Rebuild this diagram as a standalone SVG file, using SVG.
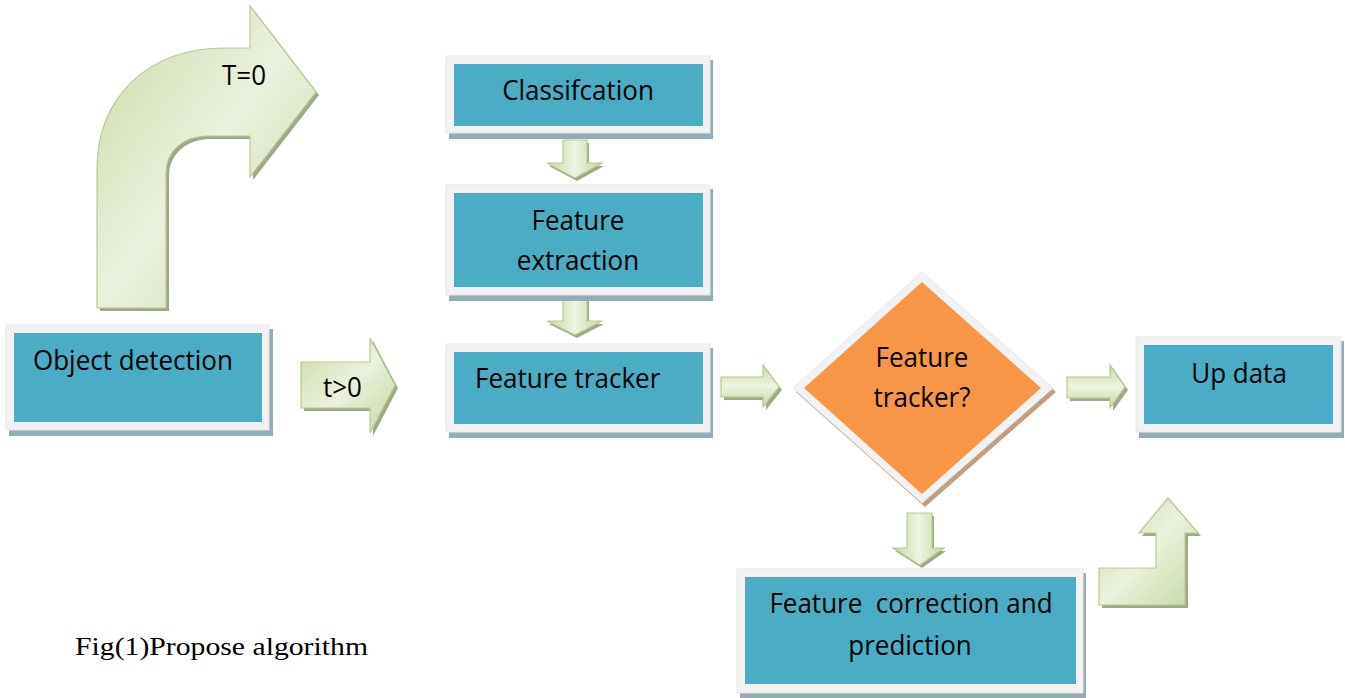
<svg xmlns="http://www.w3.org/2000/svg" width="1345" height="698" viewBox="0 0 1345 698">
<defs>
<linearGradient id="g" x1="0" y1="0" x2="1" y2="1">
<stop offset="0" stop-color="#c9dba6"/>
<stop offset="0.5" stop-color="#ebf1df"/>
<stop offset="1" stop-color="#c5d89f"/>
</linearGradient>
<linearGradient id="gv" x1="0" y1="0" x2="1" y2="0">
<stop offset="0" stop-color="#c5d89f"/>
<stop offset="0.5" stop-color="#eef3e3"/>
<stop offset="1" stop-color="#c5d89f"/>
</linearGradient>
<linearGradient id="gh" x1="0" y1="0" x2="0" y2="1">
<stop offset="0" stop-color="#c5d89f"/>
<stop offset="0.5" stop-color="#eef3e3"/>
<stop offset="1" stop-color="#c5d89f"/>
</linearGradient>
</defs>
<style>
.frame{fill:#f2f2f2;stroke:#e6e6e6;stroke-width:1}
.sh{fill:#93adb7}
.teal{fill:#4bacc6}
.arr{stroke:#b6cc8d;stroke-width:1.2;stroke-linejoin:miter}
.ash{fill:#9fa88e}
.t{font-family:"Open Sans","Liberation Sans",sans-serif;font-size:26px;fill:#000}
.c{text-anchor:middle}
.cap{font-family:"Liberation Serif","Times New Roman",serif;font-size:26px;fill:#000}
</style>
<rect width="1345" height="698" fill="#fff"/>

<g id="connectors">
<g id="arrow-t0">
<path class="ash" transform="translate(3,3)" d="M97 308 L97 170 C97 95 150 48 225 48 L250 48 L250 6 L316 92 L250 177 L250 136 L207 136 C185 136 166 150 166 173 L166 308 Z"/>
<path class="arr" fill="url(#g)" d="M97 308 L97 170 C97 95 150 48 225 48 L250 48 L250 6 L316 92 L250 177 L250 136 L207 136 C185 136 166 150 166 173 L166 308 Z"/>
<text class="t" transform="translate(222 85) scale(1 1.08)">T=0</text>
</g>
<g id="arrow-t1">
<path class="ash" transform="translate(3,3)" d="M301 362 L370 362 L370 338 L395 385 L370 433 L370 408 L301 408 Z"/>
<path class="arr" fill="url(#g)" d="M301 362 L370 362 L370 338 L395 385 L370 433 L370 408 L301 408 Z"/>
<text class="t" transform="translate(323 397) scale(1 1.08)">t&gt;0</text>
</g>
<path class="ash" transform="translate(2,3)" d="M563 140 L587 140 L587 163 L602 163 L575 178 L547 163 L563 163 Z"/>
<path class="arr" fill="url(#gv)" d="M563 140 L587 140 L587 163 L602 163 L575 178 L547 163 L563 163 Z"/>
<path class="ash" transform="translate(2,3)" d="M563 298 L587 298 L587 321 L602 321 L575 335 L547 321 L563 321 Z"/>
<path class="arr" fill="url(#gv)" d="M563 298 L587 298 L587 321 L602 321 L575 335 L547 321 L563 321 Z"/>
<path class="ash" transform="translate(2,3)" d="M907 513 L932 513 L932 548 L944 548 L920 565 L893 548 L907 548 Z"/>
<path class="arr" fill="url(#gv)" d="M907 513 L932 513 L932 548 L944 548 L920 565 L893 548 L907 548 Z"/>
<path class="ash" transform="translate(3,3)" d="M721 377 L763 377 L763 365 L779 387 L763 407 L763 397 L721 397 Z"/>
<path class="arr" fill="url(#gh)" d="M721 377 L763 377 L763 365 L779 387 L763 407 L763 397 L721 397 Z"/>
<path class="ash" transform="translate(3,3)" d="M1067 377 L1110 377 L1110 365 L1125 387 L1110 408 L1110 398 L1067 398 Z"/>
<path class="arr" fill="url(#gh)" d="M1067 377 L1110 377 L1110 365 L1125 387 L1110 408 L1110 398 L1067 398 Z"/>
<path class="ash" transform="translate(3,3)" d="M1099 568 L1156 568 L1156 533 L1139 533 L1168 498 L1198 533 L1185 533 L1185 605 L1099 605 Z"/>
<path class="arr" fill="url(#g)" d="M1099 568 L1156 568 L1156 533 L1139 533 L1168 498 L1198 533 L1185 533 L1185 605 L1099 605 Z"/>
</g>

<g id="object-detection">
<rect class="sh" x="9" y="329" width="264" height="107"/>
<rect class="frame" x="6" y="325" width="263" height="105"/>
<rect class="teal" x="14" y="333" width="248" height="89"/>
<text class="t" transform="translate(33 370) scale(1 1.08)">Object detection</text>
</g>

<g id="classification">
<rect class="sh" x="449" y="60" width="264" height="79"/>
<rect class="frame" x="446" y="56" width="264" height="77"/>
<rect class="teal" x="454" y="64" width="249" height="62"/>
<text class="t c" transform="translate(578 100) scale(1 1.08)">Classifcation</text>
</g>

<g id="feature-extraction">
<rect class="sh" x="449" y="189" width="264" height="112"/>
<rect class="frame" x="446" y="185" width="264" height="110"/>
<rect class="teal" x="454" y="193" width="249" height="94"/>
<text class="t c" transform="translate(578 230) scale(1 1.08)">Feature</text>
<text class="t c" transform="translate(578 270) scale(1 1.08)">extraction</text>
</g>

<g id="feature-tracker">
<rect class="sh" x="449" y="348" width="264" height="90"/>
<rect class="frame" x="446" y="344" width="264" height="88"/>
<rect class="teal" x="454" y="352" width="249" height="72"/>
<text class="t" transform="translate(475 388) scale(1 1.08)">Feature tracker</text>
</g>

<g id="decision">
<path fill="#c49c7e" d="M925 276 L1056 392 L925 507 L796 392 Z"/>
<path class="frame" d="M922 272 L1053 388 L922 503 L793 388 Z"/>
<path fill="#f79646" d="M922 282 L1041 388 L922 494 L804 388 Z"/>
<text class="t c" transform="translate(922 367) scale(1 1.08)">Feature</text>
<text class="t c" transform="translate(922 407) scale(1 1.08)">tracker?</text>
</g>

<g id="up-data">
<rect class="sh" x="1139" y="341" width="205" height="97"/>
<rect class="frame" x="1136" y="337" width="205" height="95"/>
<rect class="teal" x="1144" y="345" width="189" height="79"/>
<text class="t c" transform="translate(1239 383) scale(1 1.08)">Up data</text>
</g>

<g id="feature-correction">
<rect class="sh" x="740" y="573" width="346" height="126"/>
<rect class="frame" x="737" y="569" width="346" height="124"/>
<rect class="teal" x="745" y="577" width="331" height="107"/>
<text class="t c" transform="translate(911 613) scale(1 1.08)" xml:space="preserve">Feature  correction and</text>
<text class="t c" transform="translate(910 655) scale(1 1.08)">prediction</text>
</g>

<text class="cap" x="75" y="655" textLength="293" lengthAdjust="spacingAndGlyphs">Fig(1)Propose algorithm</text>
</svg>
